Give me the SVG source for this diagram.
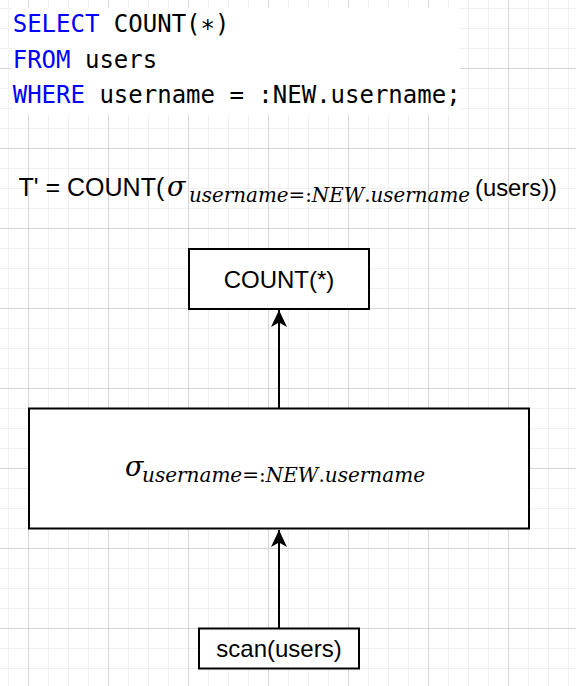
<svg xmlns="http://www.w3.org/2000/svg" width="576" height="686" viewBox="0 0 576 686">
  <defs>
    <pattern id="grid" patternUnits="userSpaceOnUse" x="28" y="68" width="80" height="80">
      <rect x="0" y="0" width="80" height="80" fill="#ffffff"/>
      <rect x="20" y="0" width="1" height="80" fill="#f0f0f0"/>
      <rect x="40" y="0" width="1" height="80" fill="#f0f0f0"/>
      <rect x="60" y="0" width="1" height="80" fill="#f0f0f0"/>
      <rect x="0" y="20" width="80" height="1" fill="#f0f0f0"/>
      <rect x="0" y="40" width="80" height="1" fill="#f0f0f0"/>
      <rect x="0" y="60" width="80" height="1" fill="#f0f0f0"/>
      <rect x="0" y="0" width="1" height="80" fill="#d6d6d6"/>
      <rect x="0" y="0" width="80" height="1" fill="#d6d6d6"/>
    </pattern>
    <marker id="arrow" markerUnits="userSpaceOnUse" markerWidth="17" markerHeight="16" refX="17" refY="8" orient="auto" viewBox="0 0 17 16">
      <path d="M0,0 L17,8 L0,16 L4.5,8 Z" fill="#000000"/>
    </marker>
    <style>
      .box { fill: #ffffff; stroke: #000000; stroke-width: 2; }
      .lbl { font-family: "Liberation Sans", Arial, Helvetica, sans-serif; font-size: 24px; fill: #000000; }
      .code { font-family: "DejaVu Sans Mono", "Liberation Mono", monospace; font-size: 24px; fill: #000000; }
      .kw { fill: #0000ff; }
      .math { font-family: "DejaVu Serif", "Liberation Serif", serif; font-style: italic; fill: #000000; }
      .sig { font-size: 27px; }
      .sub { font-size: 20px; }
      .up { font-style: normal; }
      .edge { fill: none; stroke: #000000; stroke-width: 2; }
    </style>
  </defs>

  <rect x="0" y="0" width="576" height="686" fill="url(#grid)"/>

  <g id="sql">
    <rect x="12" y="8" width="448" height="107" fill="#ffffff"/>
    <text class="code" x="12.7" y="32.3"><tspan class="kw">SELECT</tspan> COUNT(∗)</text>
    <text class="code" x="12.7" y="67.8"><tspan class="kw">FROM</tspan> users</text>
    <text class="code" x="12.7" y="103.3"><tspan class="kw">WHERE</tspan> username = :NEW.username;</text>
  </g>

  <g id="formula">
    <text class="lbl" x="18.5" y="196" style="font-size:25px">T' = COUNT(</text>
    <text class="math sig" x="167" y="196">σ</text>
    <text class="math sub" x="189" y="201.7" textLength="281" lengthAdjust="spacingAndGlyphs">username<tspan class="up">=:</tspan>NEW<tspan class="up">.</tspan>username</text>
    <text class="lbl" x="475" y="196" textLength="82" lengthAdjust="spacingAndGlyphs">(users))</text>
  </g>

  <g id="connectors">
    <line class="edge" x1="279" y1="408" x2="279" y2="310" marker-end="url(#arrow)"/>
    <line class="edge" x1="279" y1="628" x2="279" y2="530" marker-end="url(#arrow)"/>
  </g>

  <g id="count">
    <rect class="box" x="189" y="249" width="180" height="60"/>
    <text class="lbl" x="279" y="288" text-anchor="middle">COUNT(*)</text>
  </g>

  <g id="select">
    <rect class="box" x="29" y="408.5" width="500" height="120"/>
    <text class="math sig" x="125" y="476">σ</text>
    <text class="math sub" x="142" y="482" textLength="283" lengthAdjust="spacingAndGlyphs">username<tspan class="up">=:</tspan>NEW<tspan class="up">.</tspan>username</text>
  </g>

  <g id="scan">
    <rect class="box" x="199" y="628.5" width="160" height="40"/>
    <text class="lbl" x="279" y="657" text-anchor="middle">scan(users)</text>
  </g>
</svg>
